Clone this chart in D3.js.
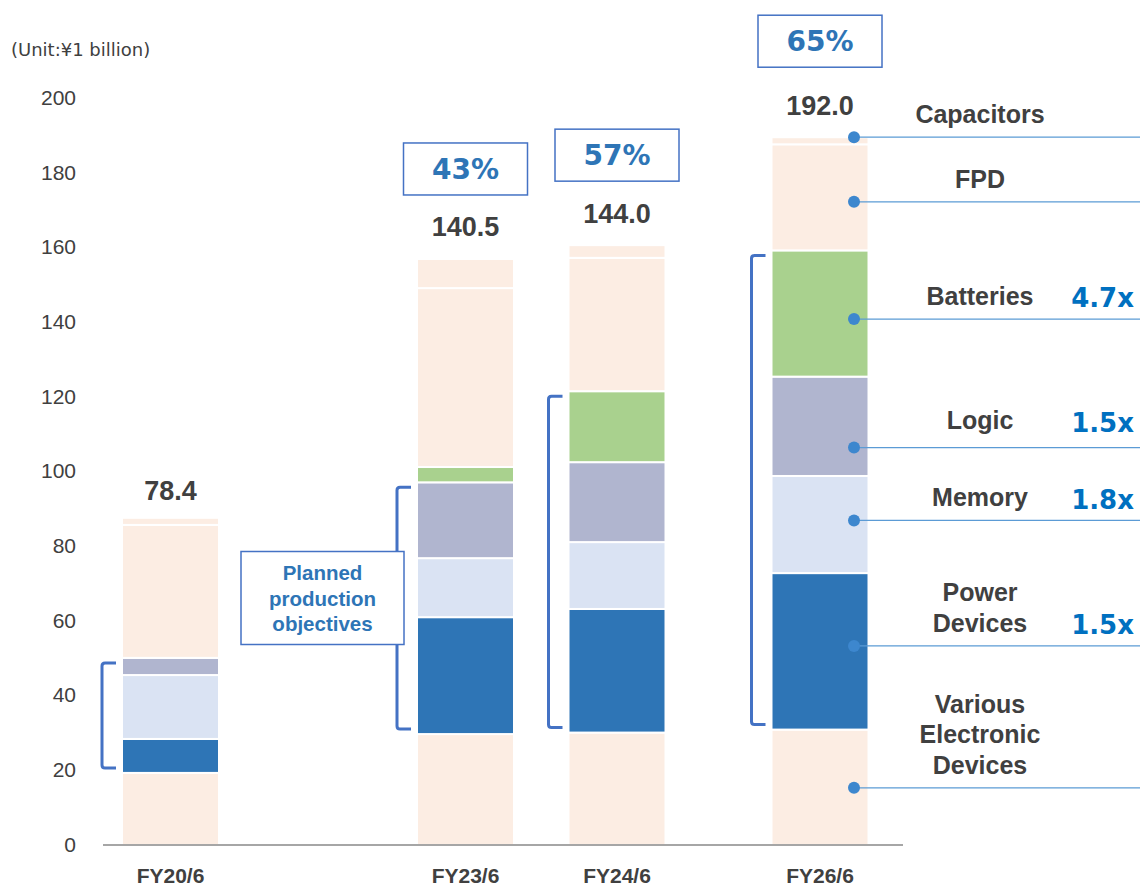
<!DOCTYPE html>
<html>
<head>
<meta charset="utf-8">
<script src="https://cdn.jsdelivr.net/npm/d3@7"></script>
<style>
  html, body { margin: 0; padding: 0; background: #ffffff; }
  svg { display: block; }
</style>
</head>
<body>
<svg id="chart" width="1140" height="887"></svg>
<script>
// ---------------- DATA ----------------
const categories = ["FY20/6", "FY23/6", "FY24/6", "FY26/6"];
const seriesNames = ["Various Electronic Devices", "Power Devices", "Memory", "Logic", "Batteries", "FPD", "Capacitors"];
const seriesLabelLines = [["Various", "Electronic", "Devices"], ["Power", "Devices"], ["Memory"], ["Logic"], ["Batteries"], ["FPD"], ["Capacitors"]];
const various    = [19.3, 29.7, 30.1, 30.9];
const power      = [9.1, 31.3, 33.1, 41.9];
const memory     = [17.1, 15.8, 17.9, 26.0];
const logic      = [4.6, 20.3, 21.4, 26.6];
const batteries  = [0, 4.1, 19.0, 33.8];
const fpd        = [35.6, 47.9, 35.7, 28.4];
const capacitors = [1.9, 7.8, 3.4, 1.9];
const totals = ["78.4", "140.5", "144.0", "192.0"];
const shares = ["", "43%", "57%", "65%"];
const multipliers = ["", "1.5x", "1.8x", "1.5x", "4.7x", "", ""];
const calloutValues = [15.3, 53.3, 86.9, 106.4, 140.8, 172.2, 189.5];
// index of top series included in the "planned production" bracket
const bracketTopSeries = [3, 3, 4, 4];
const yTicks = [0, 20, 40, 60, 80, 100, 120, 140, 160, 180, 200];
const unitLabel = "(Unit:¥1 billion)";
const boxText = ["Planned", "production", "objectives"];

// ---------------- STYLES ----------------
const colors = ["#FCEDE3", "#2E75B6", "#DAE3F3", "#B0B5CF", "#A9D18E", "#FCEDE3", "#FCEDE3"];
const textDark = "#404040";
const blue = "#2E75B6";
const bracketBlue = "#4472C4";
const arial = "'Liberation Sans', Arial, sans-serif";
const dejavu = "'DejaVu Sans', Verdana, sans-serif";

const svg = d3.select("#chart");

// ---------------- SCALES ----------------
const y = d3.scaleLinear().domain([0, 200]).range([845, 98]);
const xCenter = d3.scaleOrdinal().domain(categories).range([170.5, 465.5, 617, 820]);
const barW = 97;

const seriesData = [various, power, memory, logic, batteries, fpd, capacitors];
const rows = categories.map((c, i) => {
  const r = { cat: c };
  seriesNames.forEach((s, k) => r[s] = seriesData[k][i]);
  return r;
});
const stack = d3.stack().keys(seriesNames)(rows);

// ---------------- AXIS ----------------
const yAxis = d3.axisLeft(y).tickValues(yTicks).tickSize(0).tickPadding(0);
const gy = svg.append("g").attr("transform", "translate(76,0)").call(yAxis);
gy.select(".domain").remove();
gy.selectAll("text")
  .attr("fill", textDark)
  .style("font-family", arial)
  .style("font-size", "21px")
  .attr("dy", "0.3em");

svg.append("text")
  .attr("x", 11).attr("y", 50).attr("dy", "0.35em")
  .attr("fill", textDark)
  .style("font-family", dejavu).style("font-size", "18px")
  .text(unitLabel);

// ---------------- BARS ----------------
stack.forEach((layer, k) => {
  svg.append("g").selectAll("rect")
    .data(layer)
    .join("rect")
    .attr("x", d => xCenter(d.data.cat) - barW / 2)
    .attr("width", barW)
    .attr("y", d => y(d[1]))
    .attr("height", d => Math.max(0, y(d[0]) - y(d[1])))
    .attr("fill", colors[k])
    .attr("stroke", "#ffffff")
    .attr("stroke-width", d => (d[1] - d[0]) > 0 ? 2 : 0);
});

// baseline
svg.append("line")
  .attr("x1", 103).attr("x2", 903)
  .attr("y1", y(0)).attr("y2", y(0))
  .attr("stroke", "#A6A6A6").attr("stroke-width", 2);

// x category labels
svg.append("g").selectAll("text")
  .data(categories)
  .join("text")
  .attr("x", d => xCenter(d))
  .attr("y", 876).attr("dy", "0.35em")
  .attr("text-anchor", "middle")
  .attr("fill", textDark)
  .style("font-family", arial).style("font-size", "21px").style("font-weight", "bold")
  .text(d => d);

// totals
const topOf = i => stack[stack.length - 1][i][1];
svg.append("g").selectAll("text")
  .data(categories)
  .join("text")
  .attr("x", d => xCenter(d))
  .attr("y", (d, i) => y(topOf(i)) - 32 + (i === 0 ? 5 : 0)).attr("dy", "0.35em")
  .attr("text-anchor", "middle")
  .attr("fill", textDark)
  .style("font-family", arial).style("font-size", "27px").style("font-weight", "bold")
  .text((d, i) => totals[i]);

// share boxes
categories.forEach((c, i) => {
  if (!shares[i]) return;
  const bottom = y(topOf(i)) - 64 - (i === 3 ? 6 : 0);
  const g = svg.append("g");
  g.append("rect")
    .attr("x", xCenter(c) - 62).attr("y", bottom - 52)
    .attr("width", 124).attr("height", 52)
    .attr("fill", "#ffffff").attr("stroke", bracketBlue).attr("stroke-width", 1.5);
  g.append("text")
    .attr("x", xCenter(c)).attr("y", bottom - 26).attr("dy", "0.36em")
    .attr("text-anchor", "middle")
    .attr("fill", blue)
    .style("font-family", dejavu).style("font-size", "28px").style("font-weight", "bold")
    .text(shares[i]);
});

// brackets
categories.forEach((c, i) => {
  const left = xCenter(c) - barW / 2;
  const yTop = y(stack[bracketTopSeries[i]][i][1]) + 5;
  const yBot = y(stack[1][i][0]) - 5;
  const xv = left - 20, xe = left - 6, r = 3;
  const p = d3.path();
  p.moveTo(xe, yTop);
  p.lineTo(xv + r, yTop);
  p.quadraticCurveTo(xv, yTop, xv, yTop + r);
  p.lineTo(xv, yBot - r);
  p.quadraticCurveTo(xv, yBot, xv + r, yBot);
  p.lineTo(xe, yBot);
  svg.append("path").attr("d", p.toString())
    .attr("fill", "none").attr("stroke", bracketBlue).attr("stroke-width", 3);
});

// Planned production objectives box (on FY23 bracket)
{
  const c = categories[1];
  const right = xCenter(c) - barW / 2 - 13;
  const w = 163, h = 93;
  const cy = 598;
  svg.append("rect")
    .attr("x", right - w).attr("y", cy - h / 2)
    .attr("width", w).attr("height", h)
    .attr("fill", "#ffffff").attr("stroke", bracketBlue).attr("stroke-width", 1.5);
  svg.append("g").selectAll("text")
    .data(boxText)
    .join("text")
    .attr("x", right - w / 2)
    .attr("y", (d, j) => cy - 25 + j * 25.5).attr("dy", "0.35em")
    .attr("text-anchor", "middle")
    .attr("fill", blue)
    .style("font-family", arial).style("font-size", "20.5px").style("font-weight", "bold")
    .text(d => d);
}

// callouts on the right
const dotX = 854;
const labelX = 980;
seriesNames.forEach((s, k) => {
  const cy = y(calloutValues[k]);
  svg.append("line")
    .attr("x1", dotX).attr("x2", 1140)
    .attr("y1", cy).attr("y2", cy)
    .attr("stroke", "#5B9BD5").attr("stroke-width", 1.3);
  svg.append("circle")
    .attr("cx", dotX).attr("cy", cy).attr("r", 6)
    .attr("fill", "#3D87CE");
  const lines = seriesLabelLines[k];
  const lastY = cy - 23 - (k === 3 ? 4 : 0);
  svg.append("g").selectAll("text")
    .data(lines)
    .join("text")
    .attr("x", labelX)
    .attr("y", (d, j) => lastY - (lines.length - 1 - j) * 30.5).attr("dy", "0.35em")
    .attr("text-anchor", "middle")
    .attr("fill", textDark)
    .style("font-family", arial).style("font-size", "25px").style("font-weight", "bold")
    .text(d => d);
  if (multipliers[k]) {
    svg.append("text")
      .attr("x", 1134).attr("y", lastY + 2).attr("dy", "0.36em")
      .attr("text-anchor", "end")
      .attr("fill", "#0070C0")
      .style("font-family", dejavu).style("font-size", "26px").style("font-weight", "bold")
      .text(multipliers[k]);
  }
});
</script>
</body>
</html>
